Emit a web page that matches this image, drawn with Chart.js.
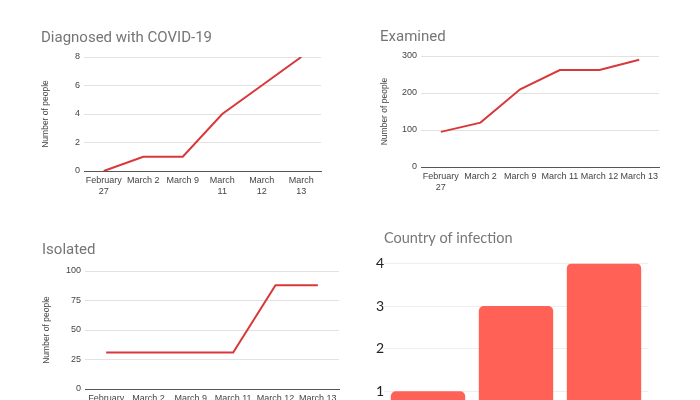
<!DOCTYPE html>
<html lang="en">
<head>
    <meta charset="UTF-8">
    <title>COVID-19 charts</title>
    <script src="https://cdn.jsdelivr.net/npm/chart.js"></script>
    <style>
        body {
            margin: 0;
            width: 700px;
            height: 400px;
            overflow: hidden;
            background: white;
            position: relative;
        }
        .box {
            position: absolute;
        }
    </style>
</head>
<body>
    <div class="box" style="left:30px; top:20px; width:300px; height:185px;"><canvas id="diagnosedChart"></canvas></div>
    <div class="box" style="left:370px; top:20px; width:310px; height:185px;"><canvas id="examinedChart"></canvas></div>
    <div class="box" style="left:30px; top:230px; width:320px; height:190px;"><canvas id="isolatedChart"></canvas></div>
    <div class="box" style="left:370px; top:225px; width:300px; height:219px;"><canvas id="countryChart"></canvas></div>
    <script>
        // data
        const dates = [['February', '27'], 'March 2', 'March 9', ['March', '11'], ['March', '12'], ['March', '13']];
        const datesWide = [['February', '27'], 'March 2', 'March 9', 'March 11', 'March 12', 'March 13'];
        const diagnosed = [0, 1, 1, 4, 6, 8];
        const examined = [95, 120, 210, 262, 262, 290];
        const isolated = [31, 31, 31, 31, 88, 88];
        const countries = ['Country 1', 'Country 2', 'Country 3'];
        const infections = [1, 3, 4];

        const lineRed = '#d8383a';
        const gridGrey = '#e2e2e2';
        const smallFont = { family: 'Liberation Sans, Arial', size: 9 };

        function lineChart(id, title, labels, values, opts) {
            return new Chart(document.getElementById(id), {
                type: 'line',
                data: {
                    labels: labels,
                    datasets: [{
                        data: values,
                        borderColor: lineRed,
                        borderWidth: 2,
                        pointRadius: 0,
                        tension: 0
                    }]
                },
                options: {
                    responsive: true,
                    maintainAspectRatio: false,
                    animation: false,
                    layout: { padding: opts.padding },
                    plugins: {
                        legend: { display: false },
                        tooltip: { enabled: false },
                        title: {
                            display: true,
                            text: title,
                            align: 'start',
                            color: '#757575',
                            font: { family: 'Roboto', size: 15, weight: 'normal' },
                            padding: opts.titlePadding
                        }
                    },
                    scales: {
                        x: {
                            offset: true,
                            grid: { display: false, drawTicks: false },
                            border: { display: true, color: '#555', width: 1 },
                            ticks: {
                                color: '#444',
                                font: smallFont,
                                autoSkip: false,
                                maxRotation: 0,
                                padding: 4
                            },
                            afterFit: s => { s.height = 30; }
                        },
                        y: {
                            min: 0,
                            max: opts.max,
                            grid: { color: gridGrey, drawTicks: false },
                            border: { display: false },
                            ticks: {
                                stepSize: opts.step,
                                color: '#444',
                                font: smallFont,
                                padding: 4
                            },
                            title: {
                                display: true,
                                text: 'Number of people',
                                color: '#444',
                                font: { family: 'Liberation Sans, Arial', size: 8.5 },
                                padding: { top: 0, bottom: 0 }
                            },
                            afterFit: s => { s.width = opts.yWidth; }
                        }
                    }
                }
            });
        }

        lineChart('diagnosedChart', 'Diagnosed with COVID-19', dates, diagnosed, {
            max: 8, step: 2, yWidth: 43,
            padding: { left: 11, right: 9, top: 0, bottom: 4 },
            titlePadding: { top: 9, bottom: 10 }
        });

        lineChart('examinedChart', 'Examined', datesWide, examined, {
            max: 300, step: 100, yWidth: 41,
            padding: { left: 10, right: 21, top: 0, bottom: 8 },
            titlePadding: { top: 8, bottom: 10 }
        });

        lineChart('isolatedChart', 'Isolated', datesWide, isolated, {
            max: 100, step: 25, yWidth: 43,
            padding: { left: 12, right: 11, top: 0, bottom: 1 },
            titlePadding: { top: 11, bottom: 12 }
        });

        new Chart(document.getElementById('countryChart'), {
            type: 'bar',
            data: {
                labels: countries,
                datasets: [{
                    data: infections,
                    backgroundColor: '#ff6157',
                    borderRadius: 5,
                    categoryPercentage: 1,
                    barPercentage: 0.845
                }]
            },
            options: {
                responsive: true,
                maintainAspectRatio: false,
                animation: false,
                layout: { padding: { left: 2, right: 22, top: 0, bottom: 2 } },
                plugins: {
                    legend: { display: false },
                    tooltip: { enabled: false },
                    title: {
                        display: true,
                        fullSize: false,
                        text: 'Country of infection',
                        align: 'start',
                        color: '#777',
                        font: { family: 'Lato', size: 14.5, weight: 'normal' },
                        padding: { top: 5, bottom: 16 }
                    }
                },
                scales: {
                    x: {
                        grid: { display: false },
                        border: { display: false },
                        ticks: { display: false }
                    },
                    y: {
                        min: 0,
                        max: 4,
                        grid: { color: '#eeeeee', drawTicks: false },
                        border: { display: false },
                        ticks: {
                            stepSize: 1,
                            color: '#222',
                            font: { family: 'Lato', size: 14 },
                            padding: 0
                        },
                        afterFit: s => { s.width = 12; }
                    }
                }
            }
        });
    </script>
</body>
</html>
